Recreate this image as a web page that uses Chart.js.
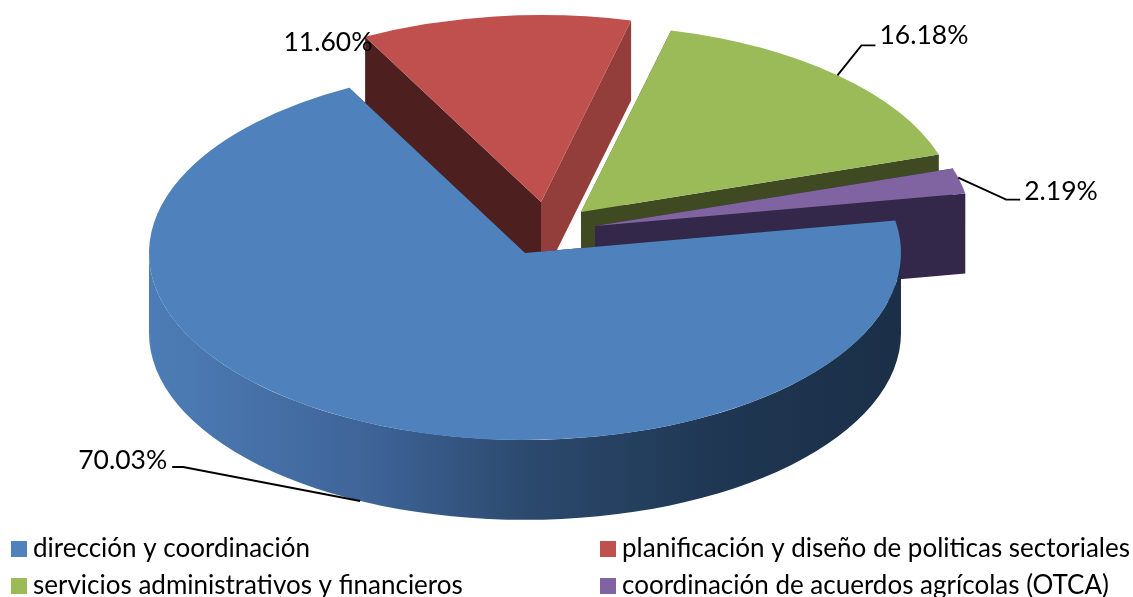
<!DOCTYPE html>
<html>
<head>
<meta charset="utf-8">
<style>html,body{margin:0;padding:0;background:#fff}canvas{display:block}</style>
<script src="https://cdn.jsdelivr.net/npm/chart.js@4/dist/chart.umd.min.js"></script>
</head>
<body>
<canvas id="c" width="1133" height="597"></canvas>
<script>
const categories = ['dirección y coordinación','planificación y diseño de politicas sectoriales','servicios administrativos y financieros','coordinación de acuerdos agrícolas (OTCA)'];
const values = [70.03, 11.60, 16.18, 2.19];
const valueLabels = ['70.03%','11.60%','16.18%','2.19%'];
const topColors = ['#4f81bd','#c0504d','#9bbb59','#8064a2'];
const startWallColors = ['#1c3048','#4d1f1f','#3f4a22','#33284a'];
const endWallColors = ['#1c3048','#943e3c','#3f4a22','#33284a'];
const explodeX = [0,16,56,70];
const explodeY = [0,-51,-41,-27];
const paintOrder = [1,2,3,0];

const squash = 0.497, depth = 80;
const FONT = '"Lato", "Open Sans", sans-serif';
const labelFontSize = 26.5, legendFontSize = 26;

const labelLayout = [
  {angle:206, wall:true,  elbow:[-177,-34], end:[-188,-34], text:[-193,-41], align:'right'},
  {angle:332, wall:false, elbow:null,       end:null,       text:[8,5],      align:'right'},
  {angle:43,  wall:false, elbow:[24,-30],   end:[38,-30],   text:[42,-40],   align:'left'},
  {angle:75,  wall:false, elbow:[48,22],    end:[62,22],    text:[66,14],    align:'left'}
];
const legendLayout = [[11,541],[600,541],[11,578],[600,578]];

const pie3d = {
  id:'pie3d',
  beforeDatasetDraw(){ return false; },
  afterDatasetsDraw(chart){
    const ctx = chart.ctx, arcs = chart.getDatasetMeta(0).data;
    paintOrder.forEach(i=>{
      const arc = arcs[i], cx = arc.x+explodeX[i], cy = arc.y+explodeY[i], R = arc.outerRadius, ry = R*squash;
      const a0 = arc.startAngle, a1 = arc.endAngle;
      const wall = (a,color)=>{
        const px = cx+R*Math.cos(a), py = cy+ry*Math.sin(a);
        ctx.fillStyle = color;
        ctx.beginPath();
        ctx.moveTo(cx,cy); ctx.lineTo(px,py); ctx.lineTo(px,py+depth); ctx.lineTo(cx,cy+depth);
        ctx.closePath(); ctx.fill();
      };
      wall(a0,startWallColors[i]);
      wall(a1,endWallColors[i]);
      // curved rim: only the part that faces the viewer
      const f0 = Math.max(a0,0), f1 = Math.min(a1,Math.PI);
      if(f1>f0){
        const g = ctx.createLinearGradient(cx-R,0,cx+R,0);
        g.addColorStop(0,'#4d7db6');
        g.addColorStop(0.28,'#3f659a');
        g.addColorStop(0.5,'#2c4a6e');
        g.addColorStop(0.75,'#1f3753');
        g.addColorStop(1,'#1b2f47');
        ctx.fillStyle = g;
        ctx.beginPath();
        ctx.ellipse(cx,cy,R,ry,0,f0,f1);
        ctx.ellipse(cx,cy+depth,R,ry,0,f1,f0,true);
        ctx.closePath(); ctx.fill();
      }
      // top face: the library's own arc element under a squash transform
      ctx.save();
      ctx.translate(cx,cy); ctx.scale(1,squash); ctx.translate(-arc.x,-arc.y);
      arc.draw(ctx);
      ctx.restore();
    });
    // value labels and leader lines
    ctx.font = labelFontSize+'px '+FONT;
    ctx.textBaseline = 'middle';
    labelLayout.forEach((l,i)=>{
      const arc = arcs[i], cx = arc.x+explodeX[i], cy = arc.y+explodeY[i], R = arc.outerRadius;
      const a = l.angle*Math.PI/180;
      const ax = cx+R*Math.sin(a), ay = cy-R*squash*Math.cos(a)+(l.wall?depth:0);
      if(l.elbow){
        ctx.strokeStyle='#000'; ctx.lineWidth=1.9;
        ctx.beginPath(); ctx.moveTo(ax,ay);
        ctx.lineTo(ax+l.elbow[0],ay+l.elbow[1]);
        ctx.lineTo(ax+l.end[0],ay+l.end[1]);
        ctx.stroke();
      }
      ctx.fillStyle='#000'; ctx.textAlign=l.align;
      ctx.fillText(valueLabels[i],ax+l.text[0],ay+l.text[1]);
    });
    // legend
    ctx.font = legendFontSize+'px '+FONT;
    ctx.textAlign='left'; ctx.textBaseline='alphabetic';
    categories.forEach((t,i)=>{
      const [x,y]=legendLayout[i];
      ctx.fillStyle=topColors[i]; ctx.fillRect(x,y,16,16);
      ctx.fillStyle='#000'; ctx.fillText(t,x+22,y+16);
    });
  }
};

new Chart(document.getElementById('c'),{
  type:'pie',
  data:{labels:categories,datasets:[{data:values,backgroundColor:topColors,borderWidth:0,radius:376,hoverOffset:0}]},
  options:{
    responsive:false,animation:false,rotation:80,
    layout:{padding:{left:0,top:0,right:83,bottom:91}},
    plugins:{legend:{display:false},tooltip:{enabled:false}},
    events:[]
  },
  plugins:[pie3d]
});
</script>
</body>
</html>
